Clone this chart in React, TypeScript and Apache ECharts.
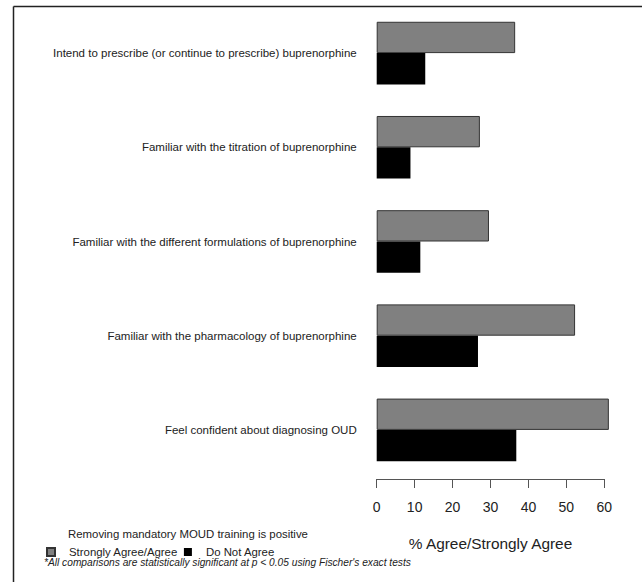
import React, { useEffect, useRef } from "react";
import * as echarts from "echarts";

const categories = [
  "Intend to prescribe (or continue to prescribe) buprenorphine",
  "Familiar with the titration of buprenorphine",
  "Familiar with the different formulations of buprenorphine",
  "Familiar with the pharmacology of buprenorphine",
  "Feel confident about diagnosing OUD",
];
const agreeValues = [36.5, 27.2, 29.6, 52.3, 61.2];
const notAgreeValues = [12.8, 8.9, 11.5, 26.7, 36.8];
const seriesNames = ["Strongly Agree/Agree", "Do Not Agree"];
const axisTitle = "% Agree/Strongly Agree";
const legendTitle = "Removing mandatory MOUD training is positive";
const footnote =
  "*All comparisons are statistically significant at p < 0.05 using Fischer's exact tests";

const FONT = "'Liberation Sans', Arial, sans-serif";

export default function App() {
  const ref = useRef<HTMLDivElement>(null);
  useEffect(() => {
    document.body.style.margin = "0";
    const chart = echarts.init(ref.current!, null, { renderer: "svg" });
    chart.setOption({
      animation: false,
      backgroundColor: "#ffffff",
      textStyle: { fontFamily: FONT },
      grid: { left: 376.7, right: 37.7, top: 6, height: 471, containLabel: false },
      xAxis: {
        type: "value",
        min: 0,
        max: 60,
        interval: 10,
        offset: 2,
        splitLine: { show: false },
        axisLine: { show: true, lineStyle: { color: "#555", width: 1 } },
        axisTick: { show: true, length: 9, lineStyle: { color: "#555", width: 1 } },
        axisLabel: { margin: 21, fontSize: 14, color: "#222", fontFamily: FONT },
        name: axisTitle,
        nameLocation: "middle",
        nameGap: 57,
        nameTextStyle: { fontSize: 15.4, color: "#222", fontFamily: FONT },
      },
      yAxis: {
        type: "category",
        inverse: true,
        data: categories,
        axisLine: { show: false },
        axisTick: { show: false },
        axisLabel: { margin: 20, fontSize: 11.5, color: "#222", fontFamily: FONT },
      },
      legend: {
        left: 46,
        top: 546.5,
        itemWidth: 8,
        itemHeight: 8,
        itemGap: 6,
        icon: "rect",
        padding: 0,
        textStyle: {
          fontSize: 11.4,
          lineHeight: 11,
          color: "#222",
          fontFamily: FONT,
          padding: [0, 0, 0, 9],
        },
        data: seriesNames,
      },
      series: [
        {
          name: seriesNames[0],
          type: "bar",
          data: agreeValues,
          clip: false,
          barGap: "0%",
          barCategoryGap: "33.5%",
          itemStyle: { color: "#808080", borderColor: "#333", borderWidth: 1 },
        },
        {
          name: seriesNames[1],
          type: "bar",
          data: notAgreeValues,
          clip: false,
          barGap: "0%",
          barCategoryGap: "33.5%",
          itemStyle: { color: "#000000", borderColor: "#000", borderWidth: 0 },
        },
      ],
      graphic: [
        {
          type: "line",
          shape: { x1: 13.5, y1: 6.5, x2: 642, y2: 6.5 },
          style: { stroke: "#222", lineWidth: 1.5 },
        },
        {
          type: "line",
          shape: { x1: 13.5, y1: 6.5, x2: 13.5, y2: 582 },
          style: { stroke: "#222", lineWidth: 1.5 },
        },
        {
          type: "text",
          left: 68,
          top: 528,
          style: { text: legendTitle, fontSize: 11.4, fill: "#222", fontFamily: FONT },
        },
        {
          type: "text",
          left: 44,
          top: 557.8,
          style: {
            text: footnote,
            fontSize: 10.2,
            lineHeight: 10,
            fontStyle: "italic",
            fill: "#222",
            fontFamily: FONT,
          },
        },
      ],
    });
    return () => chart.dispose();
  }, []);
  return <div ref={ref} style={{ width: 642, height: 582 }} />;
}
